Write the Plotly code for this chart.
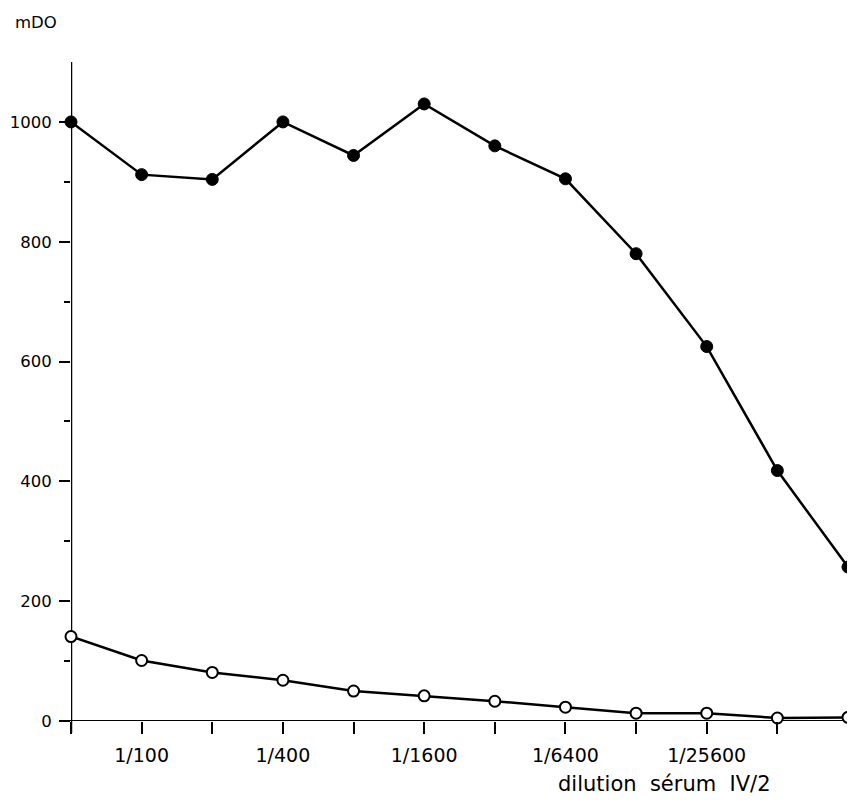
import plotly.graph_objects as go

# Data
positions = list(range(12))
tick_labels = ["", "1/100", "", "1/400", "", "1/1600", "", "1/6400", "", "1/25600", "", ""]
serum_filled = [1000, 912, 904, 1000, 944, 1030, 960, 905, 780, 625, 418, 257]
control_open = [141, 101, 81, 68, 50, 42, 33, 23, 13, 13, 5, 6]

FONT = "DejaVu Sans"

fig = go.Figure()
fig.add_trace(go.Scatter(
    x=positions, y=serum_filled, mode="lines+markers",
    line=dict(color="black", width=2.5),
    marker=dict(symbol="circle", size=12, color="black", line=dict(color="black", width=1)),
    cliponaxis=False, showlegend=False,
))
fig.add_trace(go.Scatter(
    x=positions, y=control_open, mode="lines+markers",
    line=dict(color="black", width=2.5),
    marker=dict(symbol="circle", size=11, color="white", line=dict(color="black", width=2)),
    cliponaxis=False, showlegend=False,
))

# axis lines with small overhangs like the original
fig.add_shape(type="line", xref="x", yref="paper", x0=0, x1=0, y0=-0.018, y1=1,
              line=dict(color="black", width=2.5), layer="below")
fig.add_shape(type="line", xref="paper", yref="y", x0=-0.014, x1=1, y0=0, y1=0,
              line=dict(color="black", width=2), layer="below")

# page body has an 8px margin, so the figure is sized/offset to compensate
fig.update_layout(
    width=847, height=794,
    margin=dict(l=63, r=7, t=54, b=81, autoexpand=False),
    paper_bgcolor="white", plot_bgcolor="white",
    font=dict(family=FONT, color="black", size=16),
    xaxis=dict(
        range=[0, 11], tickmode="array", tickvals=positions, ticktext=tick_labels,
        ticks="outside", ticklen=12, tickwidth=2, tickcolor="black",
        ticklabelstandoff=5,
        showline=False, showgrid=False, zeroline=False, automargin=False,
        tickfont=dict(family=FONT, size=19, color="black"),
    ),
    yaxis=dict(
        range=[0, 1100], tickmode="array", tickvals=[0, 200, 400, 600, 800, 1000],
        ticks="outside", ticklen=11, tickwidth=2, tickcolor="black",
        ticklabelstandoff=4, automargin=False,
        minor=dict(tickvals=[100, 300, 500, 700, 900], ticks="outside", ticklen=6,
                   tickwidth=2, tickcolor="black"),
        showline=False, showgrid=False, zeroline=False,
        tickfont=dict(family=FONT, size=16.5, color="black"),
    ),
    annotations=[
        dict(text="mDO", xref="paper", yref="paper", x=(36 - 71) / 777, y=(721 - 22) / 659,
             xanchor="center", yanchor="middle", showarrow=False,
             font=dict(family=FONT, size=16.5, color="black")),
        dict(text="dilution  sérum  IV/2", xref="paper", yref="paper",
             x=(664 - 71) / 777, y=-(784 - 721) / 659,
             xanchor="center", yanchor="middle", showarrow=False,
             font=dict(family=FONT, size=21, color="black")),
    ],
)

fig.write_html("out.html")
